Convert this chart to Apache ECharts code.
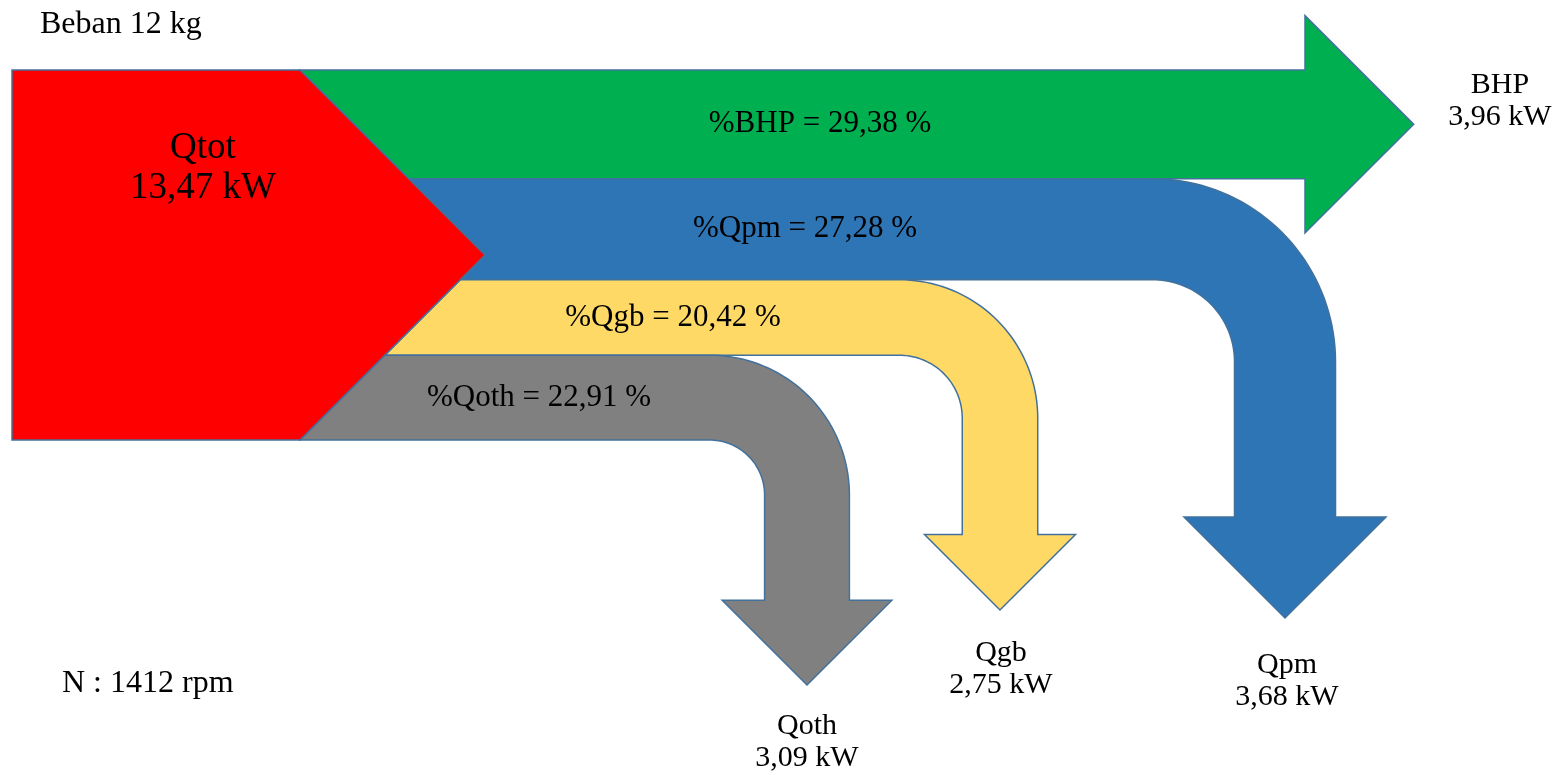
<!DOCTYPE html>
<html><head><meta charset="utf-8">
<script src="https://cdn.jsdelivr.net/npm/echarts@6/dist/echarts.min.js"></script>
<style>html,body{margin:0;padding:0;background:#fff}#c{width:1557px;height:775px}</style>
</head><body><div id="c"></div>
<script>
// ---- data ----
const categories = ['BHP', 'Qpm', 'Qgb', 'Qoth'];
const powerKW = [3.96, 3.68, 2.75, 3.09];
const percentShare = [29.38, 27.28, 20.42, 22.91];
const sourceName = 'Qtot';
const sourceKW = [13.47];
const noteTexts = ['Beban 12 kg', 'N : 1412 rpm'];

// ---- layout (axis units, not data) ----
const SRC = {x0: 12, x1: 300, y0: 70, y1: 440, labelX: 203, labelY: 168};
const FLOW_LAYOUT = [
  {dir: 'right', headX: 1305, labelX: 820, endX: 1500, endY: 101},
  {dir: 'down', legX: 1285, innerR: 82, tipY: 618, labelX: 805, endX: 1287, endY: 681},
  {dir: 'down', legX: 1000, innerR: 63, tipY: 610, labelX: 673, endX: 1001, endY: 669},
  {dir: 'down', legX: 807, innerR: 55, tipY: 685, labelX: 539, endX: 807, endY: 742}
];
const COLORS = ['#00B050', '#2E75B6', '#FFD966', '#808080'];
const SRC_COLOR = '#FF0000';
const EDGE = '#41719C';
const FAMILY = '"Liberation Serif", "Times New Roman", serif';

const fmt = v => v.toFixed(2).replace('.', ',');
const H = SRC.y1 - SRC.y0;
const flowSum = powerKW.reduce((a, b) => a + b, 0);
const k = H / flowSum;
const cum = [];
powerKW.reduce((acc, v, i) => { cum[i] = acc; return acc + v; }, 0);
const tipX = SRC.x1 + H / 2, tipYs = SRC.y0 + H / 2;
const diagX = y => SRC.x1 + Math.min(y - SRC.y0, SRC.y1 - y);
const N = 40;

function txt(api, x, y, text, size, lh) {
  const p = api.coord([x, y]);
  return {type: 'text', z2: 10, style: {text: text, x: p[0], y: p[1], fill: '#000',
    fontFamily: FAMILY, fontSize: size, lineHeight: lh || size * 1.07, align: 'center', verticalAlign: 'middle'}};
}

function renderFlow(params, api) {
  const i = params.dataIndex;
  const L = FLOW_LAYOUT[i];
  const w = api.value(1) * k;
  const top = SRC.y0 + cum[i] * k, bot = top + w, mid = (top + bot) / 2;
  const pts = [[diagX(top), top]];
  if (L.dir === 'right') {
    pts.push([L.headX, top], [L.headX, mid - w], [L.headX + w, mid], [L.headX, mid + w], [L.headX, bot]);
  } else {
    const xi = L.legX - w / 2, xo = L.legX + w / 2;
    const ri = L.innerR, ro = L.innerR + w;
    const cx = xi - ri, cy = bot + ri;
    const base = L.tipY - w;
    for (let s = 0; s <= N; s++) {
      const t = -Math.PI / 2 + s / N * Math.PI / 2;
      pts.push([cx + ro * Math.cos(t), cy + ro * Math.sin(t)]);
    }
    pts.push([xo, base], [L.legX + w, base], [L.legX, L.tipY], [L.legX - w, base], [xi, base]);
    for (let s = 0; s <= N; s++) {
      const t = -s / N * Math.PI / 2;
      pts.push([cx + ri * Math.cos(t), cy + ri * Math.sin(t)]);
    }
  }
  pts.push([diagX(bot), bot]);
  if (tipYs > top && tipYs < bot) pts.push([tipX, tipYs]);
  const name = categories[i];
  return {type: 'group', children: [
    {type: 'polygon', shape: {points: pts.map(p => api.coord(p))},
     style: {fill: COLORS[i], stroke: EDGE, lineWidth: 1.5}},
    txt(api, L.labelX, mid, '%' + name + ' = ' + fmt(api.value(2)) + ' %', 31),
    txt(api, L.endX, L.endY, name + '\n' + fmt(api.value(1)) + ' kW', 30, 32)
  ]};
}

function renderSource(params, api) {
  const pts = [[SRC.x0, SRC.y0], [SRC.x1, SRC.y0], [tipX, tipYs], [SRC.x1, SRC.y1], [SRC.x0, SRC.y1]];
  return {type: 'group', children: [
    {type: 'polygon', shape: {points: pts.map(p => api.coord(p))},
     style: {fill: SRC_COLOR, stroke: EDGE, lineWidth: 1.5}},
    txt(api, SRC.labelX, SRC.labelY, sourceName + '\n' + fmt(api.value(1)) + ' kW', 37, 40)
  ]};
}

const chart = echarts.init(document.getElementById('c'), null, {renderer: 'canvas'});
chart.setOption({
  animation: false,
  backgroundColor: '#fff',
  grid: {left: 0, right: 0, top: 0, bottom: 0},
  xAxis: {type: 'value', min: 0, max: 1557, show: false},
  yAxis: {type: 'value', min: 0, max: 775, inverse: true, show: false},
  graphic: [
    {type: 'text', left: 40, top: 9, style: {text: noteTexts[0], fontFamily: FAMILY, fontSize: 32, fill: '#000'}},
    {type: 'text', left: 62, top: 668, style: {text: noteTexts[1], fontFamily: FAMILY, fontSize: 32, fill: '#000'}}
  ],
  series: [
    {type: 'custom', coordinateSystem: 'cartesian2d', clip: false, renderItem: renderFlow,
     data: categories.map((c, i) => ({name: c, value: [i, powerKW[i], percentShare[i]]}))},
    {type: 'custom', coordinateSystem: 'cartesian2d', clip: false, renderItem: renderSource,
     data: [{name: sourceName, value: [0, sourceKW[0]]}]}
  ]
});
</script>
</body></html>
